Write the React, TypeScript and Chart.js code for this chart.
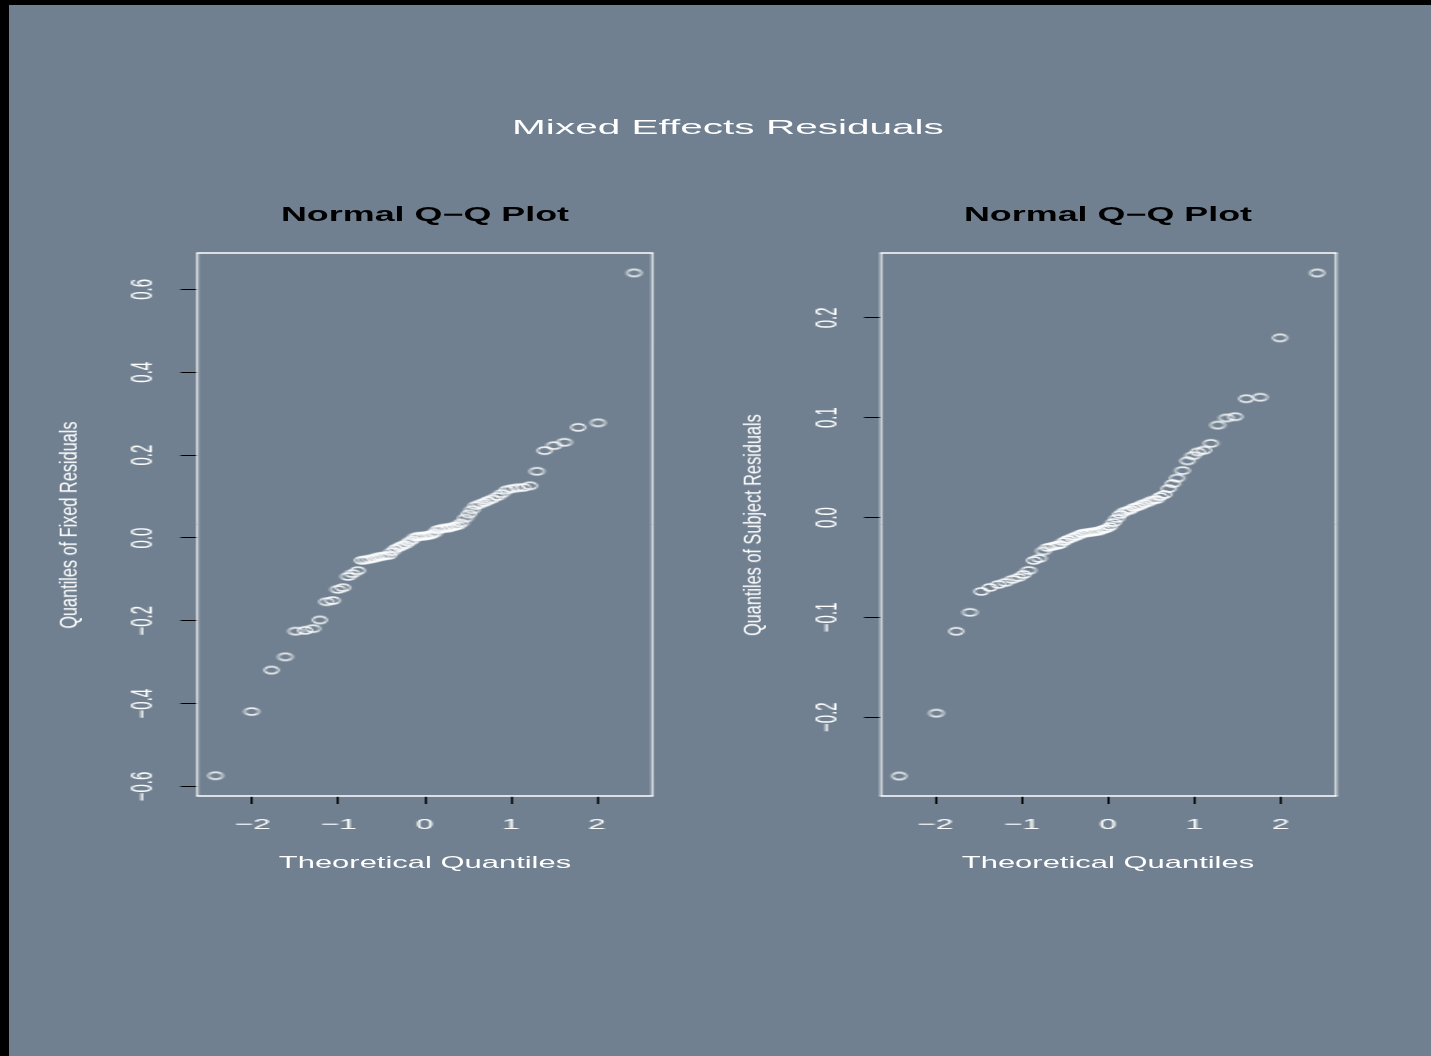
import React, { useEffect, useRef } from 'react';
import { Chart, registerables } from 'chart.js';

Chart.register(...registerables);

// ---------- data ----------
const LEFT_THEORETICAL = [
  -2.43, -2.01, -1.78, -1.62, -1.5, -1.39, -1.3, -1.22, -1.14, -1.07, -1.01,
  -0.95, -0.89, -0.84, -0.78, -0.73, -0.69, -0.64, -0.59, -0.55, -0.51, -0.47,
  -0.42, -0.38, -0.34, -0.3, -0.27, -0.23, -0.19, -0.15, -0.11, -0.075, -0.037,
  0,
  0.037, 0.075, 0.11, 0.15, 0.19, 0.23, 0.27, 0.3, 0.34, 0.38, 0.42, 0.47,
  0.51, 0.55, 0.59, 0.64, 0.69, 0.73, 0.78, 0.84, 0.89, 0.95, 1.01, 1.07,
  1.14, 1.22, 1.3, 1.39, 1.5, 1.62, 1.78, 2.01, 2.43,
];
const LEFT_RESIDUALS = [
  -0.574, -0.419, -0.319, -0.287, -0.225, -0.223, -0.219, -0.198, -0.154, -0.151,
  -0.124, -0.12, -0.093, -0.086, -0.079, -0.054, -0.053, -0.051, -0.049, -0.046,
  -0.045, -0.043, -0.042, -0.033, -0.026, -0.022, -0.019, -0.016, -0.01, -0.005,
  0.002, 0.004, 0.004, 0.005, 0.006, 0.008, 0.012, 0.02, 0.022, 0.024,
  0.024, 0.026, 0.028, 0.03, 0.036, 0.048, 0.058, 0.068, 0.078, 0.082,
  0.086, 0.09, 0.094, 0.1, 0.107, 0.116, 0.119, 0.121, 0.122, 0.126,
  0.161, 0.211, 0.223, 0.231, 0.267, 0.278, 0.64,
];
const RIGHT_THEORETICAL = [
  -2.42, -1.99, -1.76, -1.6, -1.47, -1.37, -1.27, -1.19, -1.11, -1.04, -0.98,
  -0.92, -0.86, -0.8, -0.75, -0.7, -0.65, -0.6, -0.56, -0.51, -0.47, -0.42,
  -0.38, -0.34, -0.3, -0.26, -0.22, -0.18, -0.14, -0.1, -0.06, -0.02,
  0.02, 0.06, 0.1, 0.14, 0.18, 0.22, 0.26, 0.3, 0.34, 0.38, 0.42, 0.47, 0.51,
  0.56, 0.6, 0.65, 0.7, 0.75, 0.8, 0.86, 0.92, 0.98, 1.04, 1.11, 1.19, 1.27,
  1.37, 1.47, 1.6, 1.76, 1.99, 2.42,
];
const RIGHT_RESIDUALS = [
  -0.259, -0.196, -0.114, -0.095, -0.074, -0.07, -0.067, -0.065, -0.062, -0.06,
  -0.057, -0.053, -0.043, -0.041, -0.0335, -0.03, -0.029, -0.028, -0.027, -0.024,
  -0.022, -0.0205, -0.019, -0.0175, -0.016, -0.0155, -0.015, -0.0145, -0.014, -0.0134,
  -0.012, -0.011, -0.009, -0.005, -0.001, 0.003, 0.0056, 0.0068, 0.0078, 0.01,
  0.011, 0.0125, 0.014, 0.0156, 0.0173, 0.018, 0.021, 0.023, 0.029, 0.034,
  0.0395, 0.047, 0.0568, 0.062, 0.0657, 0.0675, 0.0743, 0.0926, 0.0997, 0.101,
  0.119, 0.1205, 0.18, 0.245,
];

const X_TICKS = [-2, -1, 0, 1, 2];
const X_TICK_LABELS = ['\u22122', '\u22121', '0', '1', '2'];
const LEFT_Y_TICKS = [-0.6, -0.4, -0.2, 0, 0.2, 0.4, 0.6];
const LEFT_Y_TICK_LABELS = ['\u22120.6', '\u22120.4', '\u22120.2', '0.0', '0.2', '0.4', '0.6'];
const RIGHT_Y_TICKS = [-0.2, -0.1, 0, 0.1, 0.2];
const RIGHT_Y_TICK_LABELS = ['\u22120.2', '\u22120.1', '0.0', '0.1', '0.2'];

const MAIN_TITLE = 'Mixed Effects Residuals';
const PANEL_TITLE = 'Normal Q\u2212Q Plot';
const X_LABEL = 'Theoretical Quantiles';
const LEFT_Y_LABEL = 'Quantiles of Fixed Residuals';
const RIGHT_Y_LABEL = 'Quantiles of Subject Residuals';

// ---------- layout ----------
const STRETCH = 2.1; // horizontal stretch of the plot canvases
const FONT = "'Liberation Sans', Arial, Helvetica, sans-serif";
const BG = '#708090';
const CANVAS_H = 1051;

const LEFT_PANEL = {
  xs: LEFT_THEORETICAL, ys: LEFT_RESIDUALS,
  xMin: -2.64, xMax: 2.64, yMin: -0.623, yMax: 0.688,
  yTicks: LEFT_Y_TICKS, yLabels: LEFT_Y_TICK_LABELS,
  iw: 340, pageLeft: 9, axisW: 89.7, padR: 33.7, yPad: 2.9,
};
const RIGHT_PANEL = {
  xs: RIGHT_THEORETICAL, ys: RIGHT_RESIDUALS,
  xMin: -2.63, xMax: 2.64, yMin: -0.279, yMax: 0.265,
  yTicks: RIGHT_Y_TICKS, yLabels: RIGHT_Y_TICK_LABELS,
  iw: 337, pageLeft: 723, axisW: 75.2, padR: 45.2, yPad: 3.0,
};

// Open-circle marker, pre-compensated for the horizontal canvas stretch
function makeMarker(): HTMLCanvasElement {
  const c = document.createElement('canvas');
  c.width = 10;
  c.height = 11;
  const ctx = c.getContext('2d');
  if (ctx) {
    ctx.save();
    ctx.scale(1 / STRETCH, 1);
    ctx.beginPath();
    ctx.ellipse(5 * STRETCH, 5.5, 7.0, 3.5, 0, 0, Math.PI * 2);
    ctx.strokeStyle = '#ffffff';
    ctx.lineWidth = 1.7;
    ctx.stroke();
    ctx.restore();
  }
  return c;
}

const boxPlugin = {
  id: 'rbox',
  afterDatasetsDraw(chart: any) {
    const { ctx, chartArea } = chart;
    const { left, top, right, bottom } = chartArea;
    ctx.save();
    ctx.strokeStyle = '#ffffff';
    ctx.lineWidth = 1.6;
    ctx.beginPath();
    ctx.moveTo(left - 0.5, top);
    ctx.lineTo(right + 0.5, top);
    ctx.moveTo(left - 0.5, bottom);
    ctx.lineTo(right + 0.5, bottom);
    ctx.stroke();
    ctx.lineWidth = 0.9;
    ctx.beginPath();
    ctx.moveTo(left, top);
    ctx.lineTo(left, bottom);
    ctx.moveTo(right, top);
    ctx.lineTo(right, bottom);
    ctx.stroke();
    ctx.restore();
  },
};

function makeConfig(p: any, marker: HTMLCanvasElement): any {
  const pts = p.xs.map((x: number, i: number) => ({ x, y: p.ys[i] }));
  return {
    type: 'scatter',
    data: {
      datasets: [
        {
          data: pts,
          pointStyle: marker,
          pointRadius: 4,
          showLine: false,
        },
      ],
    },
    options: {
      animation: false,
      responsive: false,
      devicePixelRatio: 1,
      events: [],
      layout: { padding: { left: 0, top: 248, right: p.padR, bottom: 200 } },
      plugins: {
        legend: { display: false },
        tooltip: { enabled: false },
        title: { display: false },
      },
      scales: {
        x: {
          type: 'linear',
          position: 'bottom',
          min: p.xMin,
          max: p.xMax,
          afterBuildTicks: (s: any) => {
            s.ticks = X_TICKS.map((v) => ({ value: v }));
          },
          afterFit: (s: any) => {
            s.height = 60;
            s.paddingLeft = 0;
            s.paddingRight = 0;
            s.paddingTop = 0;
            s.paddingBottom = 0;
          },
          grid: {
            drawOnChartArea: false,
            drawTicks: true,
            tickLength: 8,
            tickColor: '#000000',
            tickWidth: 1,
          },
          border: { display: false },
          ticks: {
            color: '#ffffff',
            font: { family: FONT, size: 15 },
            padding: 12,
            autoSkip: false,
            maxRotation: 0,
            minRotation: 0,
            callback: (_v: any, i: number) => X_TICK_LABELS[i],
          },
        },
        y: {
          type: 'linear',
          position: 'left',
          min: p.yMin,
          max: p.yMax,
          afterBuildTicks: (s: any) => {
            s.ticks = p.yTicks.map((v: number) => ({ value: v }));
          },
          afterFit: (s: any) => {
            s.width = p.axisW;
            s.paddingLeft = 0;
            s.paddingRight = 0;
            s.paddingTop = 0;
            s.paddingBottom = 0;
          },
          grid: {
            drawOnChartArea: false,
            drawTicks: true,
            tickLength: 8,
            tickColor: '#000000',
            tickWidth: 1,
          },
          border: { display: false },
          ticks: {
            color: '#ffffff',
            font: { family: FONT, size: 15 },
            padding: p.yPad,
            autoSkip: false,
            minRotation: 90,
            maxRotation: 90,
            crossAlign: 'center',
            callback: (_v: any, i: number) => p.yLabels[i],
          },
        },
      },
    },
    plugins: [boxPlugin],
  };
}

function HText(props: { text: string; cx: number; capCenter: number; size: number; sx: number; bold?: boolean; color: string }) {
  const { text, cx, capCenter, size, sx, bold, color } = props;
  const W = 600;
  return (
    <div
      style={{
        position: 'absolute',
        left: cx - W / 2,
        top: capCenter - 0.4885 * size,
        width: W,
        height: size,
        lineHeight: `${size}px`,
        fontSize: size,
        fontFamily: FONT,
        fontWeight: bold ? 'bold' : 'normal',
        color,
        textAlign: 'center',
        whiteSpace: 'nowrap',
        transform: `scaleX(${sx})`,
        transformOrigin: '50% 50%',
      }}
    >
      {text}
    </div>
  );
}

function VText(props: { text: string; cx: number; cy: number; size: number; sy: number; color: string }) {
  const { text, cx, cy, size, sy, color } = props;
  const W = 500;
  return (
    <div
      style={{
        position: 'absolute',
        left: cx - W / 2,
        top: cy - size / 2,
        width: W,
        height: size,
        lineHeight: `${size}px`,
        fontSize: size,
        fontFamily: FONT,
        color,
        textAlign: 'center',
        whiteSpace: 'nowrap',
        transform: `rotate(-90deg) scale(1, ${sy})`,
        transformOrigin: '50% 50%',
      }}
    >
      {text}
    </div>
  );
}

export default function App() {
  const leftRef = useRef<HTMLCanvasElement | null>(null);
  const rightRef = useRef<HTMLCanvasElement | null>(null);

  useEffect(() => {
    const marker = makeMarker();
    const charts: Chart[] = [];
    if (leftRef.current) charts.push(new Chart(leftRef.current, makeConfig(LEFT_PANEL, marker)));
    if (rightRef.current) charts.push(new Chart(rightRef.current, makeConfig(RIGHT_PANEL, marker)));
    return () => {
      charts.forEach((c) => c.destroy());
    };
  }, []);

  return (
    <div
      style={{
        position: 'fixed',
        left: 0,
        top: 0,
        width: 1431,
        height: 1056,
        background: '#000000',
        overflow: 'hidden',
      }}
    >
      <div style={{ position: 'absolute', left: 9, top: 5, right: 0, bottom: 0, background: BG }} />
      <canvas
        ref={leftRef}
        width={LEFT_PANEL.iw}
        height={CANVAS_H}
        style={{ position: 'absolute', left: LEFT_PANEL.pageLeft, top: 5, width: LEFT_PANEL.iw * STRETCH, height: CANVAS_H }}
      />
      <canvas
        ref={rightRef}
        width={RIGHT_PANEL.iw}
        height={CANVAS_H}
        style={{ position: 'absolute', left: RIGHT_PANEL.pageLeft, top: 5, width: RIGHT_PANEL.iw * STRETCH, height: CANVAS_H }}
      />
      <HText text={MAIN_TITLE} cx={728} capCenter={125.8} size={21} sx={1.93} color="#ffffff" />
      <HText text={PANEL_TITLE} cx={425} capCenter={214.7} size={19.5} sx={1.84} bold color="#000000" />
      <HText text={PANEL_TITLE} cx={1108.3} capCenter={214.7} size={19.5} sx={1.84} bold color="#000000" />
      <HText text={X_LABEL} cx={424.5} capCenter={862.2} size={17} sx={1.82} color="#ffffff" />
      <HText text={X_LABEL} cx={1108.3} capCenter={862.2} size={17} sx={1.82} color="#ffffff" />
      <VText text={LEFT_Y_LABEL} cx={68} cy={525} size={16.3} sy={1.45} color="#ffffff" />
      <VText text={RIGHT_Y_LABEL} cx={752} cy={525} size={16.3} sy={1.45} color="#ffffff" />
    </div>
  );
}
